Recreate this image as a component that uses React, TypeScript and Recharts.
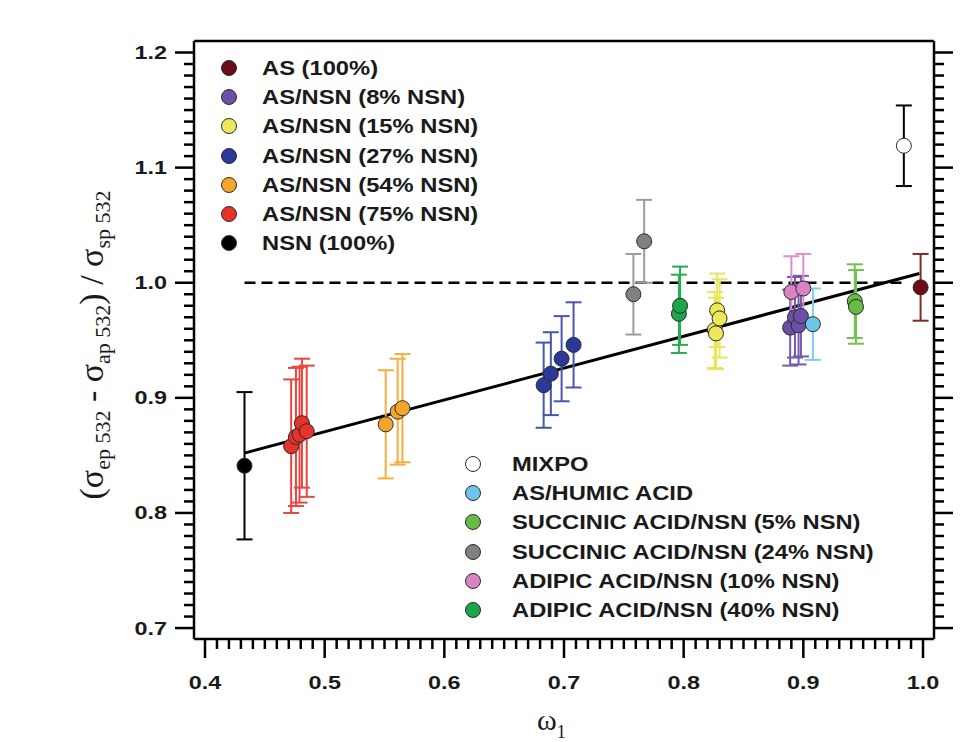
import React from 'react';
import { ScatterChart, Scatter, XAxis, YAxis, ErrorBar, ReferenceLine } from 'recharts';

const W = 961;
const H = 742;
const FONT = '"Liberation Sans", Arial, sans-serif';
const SERIF = '"Liberation Serif", "Times New Roman", serif';

// omega_1, extinction ratio and its error bar for each sample type
const AS100_W = [0.998];
const AS100_R = [0.996];
const AS100_E = [0.029];

const NSN8_W = [0.889, 0.893, 0.896, 0.898];
const NSN8_R = [0.961, 0.97, 0.963, 0.971];
const NSN8_E = [0.033, 0.035, 0.034, 0.035];

const NSN15_W = [0.826, 0.827, 0.828, 0.83];
const NSN15_R = [0.959, 0.956, 0.976, 0.969];
const NSN15_E = [0.033, 0.031, 0.032, 0.034];

const NSN27_W = [0.683, 0.689, 0.698, 0.708];
const NSN27_R = [0.911, 0.921, 0.934, 0.946];
const NSN27_E = [0.037, 0.036, 0.037, 0.037];

const NSN54_W = [0.551, 0.561, 0.565];
const NSN54_R = [0.877, 0.888, 0.891];
const NSN54_E = [0.047, 0.046, 0.047];

const NSN75_W = [0.472, 0.476, 0.479, 0.481, 0.485];
const NSN75_R = [0.858, 0.866, 0.868, 0.878, 0.871];
const NSN75_E = [0.058, 0.06, 0.059, 0.056, 0.057];

const NSN100_W = [0.433];
const NSN100_R = [0.841];
const NSN100_E = [0.064];

const MIXPO_W = [0.984];
const MIXPO_R = [1.119];
const MIXPO_E = [0.035];

const HUMIC_W = [0.908];
const HUMIC_R = [0.964];
const HUMIC_E = [0.031];

const SUCC5_W = [0.943, 0.944];
const SUCC5_R = [0.984, 0.979];
const SUCC5_E = [0.032, 0.032];

const SUCC24_W = [0.758, 0.767];
const SUCC24_R = [0.99, 1.036];
const SUCC24_E = [0.035, 0.036];

const ADIP10_W = [0.89, 0.9];
const ADIP10_R = [0.992, 0.995];
const ADIP10_E = [0.031, 0.03];

const ADIP40_W = [0.796, 0.797];
const ADIP40_R = [0.973, 0.98];
const ADIP40_E = [0.034, 0.034];

// linear fit and the unity line
const FIT_W = [0.433, 0.997];
const FIT_R = [0.852, 1.008];
const UNITY_W = [0.433, 0.985];
const UNITY_R = 1.0;

const X_LABELS = [0.4, 0.5, 0.6, 0.7, 0.8, 0.9, 1.0];
const Y_LABELS = [0.7, 0.8, 0.9, 1.0, 1.1, 1.2];

// minor ticks every 0.01 between the labelled ones
const X_TICKS = Array.from({ length: 61 }, (_, i) => Math.round((X_LABELS[0] + i * 0.01) * 1000) / 1000);
const Y_TICKS = Array.from({ length: 51 }, (_, i) => Math.round((Y_LABELS[0] + i * 0.01) * 1000) / 1000);

const mk = (w: number[], r: number[], e: number[]) => w.map((x, i) => ({ w: x, r: r[i], e: e[i] }));

const TOP_SERIES = [
  { name: 'AS (100%)', data: mk(AS100_W, AS100_R, AS100_E), fill: '#6a0d14', bar: '#7e2a2e' },
  { name: 'AS/NSN (8% NSN)', data: mk(NSN8_W, NSN8_R, NSN8_E), fill: '#6b50a8', bar: '#7459b5' },
  { name: 'AS/NSN (15% NSN)', data: mk(NSN15_W, NSN15_R, NSN15_E), fill: '#eee85a', bar: '#e9e55a' },
  { name: 'AS/NSN (27% NSN)', data: mk(NSN27_W, NSN27_R, NSN27_E), fill: '#2b3a98', bar: '#4756b0' },
  { name: 'AS/NSN (54% NSN)', data: mk(NSN54_W, NSN54_R, NSN54_E), fill: '#f5a52a', bar: '#f6ac3e' },
  { name: 'AS/NSN (75% NSN)', data: mk(NSN75_W, NSN75_R, NSN75_E), fill: '#e5332c', bar: '#e8473f' },
  { name: 'NSN (100%)', data: mk(NSN100_W, NSN100_R, NSN100_E), fill: '#000000', bar: '#000000' },
];

const BOTTOM_SERIES = [
  { name: 'MIXPO', data: mk(MIXPO_W, MIXPO_R, MIXPO_E), fill: '#ffffff', bar: '#000000' },
  { name: 'AS/HUMIC ACID', data: mk(HUMIC_W, HUMIC_R, HUMIC_E), fill: '#6ec5ec', bar: '#7fcdf0' },
  { name: 'SUCCINIC ACID/NSN (5% NSN)', data: mk(SUCC5_W, SUCC5_R, SUCC5_E), fill: '#67bc44', bar: '#70c24c' },
  { name: 'SUCCINIC ACID/NSN (24% NSN)', data: mk(SUCC24_W, SUCC24_R, SUCC24_E), fill: '#7e8083', bar: '#9a9b9d' },
  { name: 'ADIPIC ACID/NSN (10% NSN)', data: mk(ADIP10_W, ADIP10_R, ADIP10_E), fill: '#d883c2', bar: '#df8fca' },
  { name: 'ADIPIC ACID/NSN (40% NSN)', data: mk(ADIP40_W, ADIP40_R, ADIP40_E), fill: '#1ca64a', bar: '#27ad52' },
];

const isMajor = (v: number) => Math.abs(v * 10 - Math.round(v * 10)) < 1e-6;

const TickX = (props: any) => {
  const { x, y, payload, side } = props;
  const major = isMajor(payload.value);
  const d = side === 'bottom' ? 1 : -1;
  return (
    <g>
      <line x1={x} y1={y} x2={x} y2={y + d * (major ? 19 : 10)} stroke="#000" strokeWidth={2.5} />
      {major && side === 'bottom' && (
        <text
          transform={`translate(${x},${y + 50}) scale(1.3,1)`}
          textAnchor="middle"
          fontFamily={FONT}
          fontWeight="bold"
          fontSize={18}
          fill="#1a1a1a"
        >
          {payload.value.toFixed(1)}
        </text>
      )}
    </g>
  );
};

const TickY = (props: any) => {
  const { x, y, payload, side } = props;
  const major = isMajor(payload.value);
  const d = side === 'left' ? -1 : 1;
  return (
    <g>
      <line x1={x} y1={y} x2={x + d * (major ? 19 : 10)} y2={y} stroke="#000" strokeWidth={2.5} />
      {major && side === 'left' && (
        <text
          transform={`translate(${x - 27},${y + 6.5}) scale(1.3,1)`}
          textAnchor="end"
          fontFamily={FONT}
          fontWeight="bold"
          fontSize={18}
          fill="#1a1a1a"
        >
          {payload.value.toFixed(1)}
        </text>
      )}
    </g>
  );
};

const XTitle = () => (
  <text x={537} y={730} fontFamily={SERIF} fontSize={30} fill="#1a1a1a">
    ω<tspan fontSize={18} dy={8}>1</tspan>
  </text>
);

const YTitle = () => (
  <text transform="translate(103,345) rotate(-90)" textAnchor="middle" fontFamily={SERIF} fontSize={34} fill="#1a1a1a">
    (σ<tspan fontSize={22} dy={7}>ep 532</tspan>
    <tspan dy={-7}> - σ</tspan>
    <tspan fontSize={22} dy={7}>ap 532</tspan>
    <tspan dy={-7}>) / σ</tspan>
    <tspan fontSize={22} dy={7}>sp 532</tspan>
  </text>
);

const dot = (fill: string) => (p: any) => (
  <circle cx={p.cx} cy={p.cy} r={7.5} fill={fill} stroke="#2a2a2a" strokeWidth={1} />
);

const LegendBlock = ({ items, cx, top, step, textX }: any) => (
  <>
    {items.map((s: any, i: number) => {
      const cy = top + i * step;
      return (
        <React.Fragment key={s.name}>
          <svg style={{ position: 'absolute', left: cx - 9, top: cy - 9 }} width={18} height={18}>
            <circle cx={9} cy={9} r={7.5} fill={s.fill} stroke="#2a2a2a" strokeWidth={1} />
          </svg>
          <span
            style={{
              position: 'absolute',
              left: textX,
              top: cy - 12,
              fontFamily: FONT,
              fontWeight: 'bold',
              fontSize: 21,
              lineHeight: '24px',
              whiteSpace: 'nowrap',
              color: '#1a1a1a',
              transform: 'scaleX(1.13)',
              transformOrigin: 'left center',
            }}
          >
            {s.name}
          </span>
        </React.Fragment>
      );
    })}
  </>
);

export default function App() {
  const all = [...TOP_SERIES, ...BOTTOM_SERIES];
  return (
    <div style={{ position: 'absolute', left: 0, top: 0, width: W, height: H, background: '#fff' }}>
      <ScatterChart width={W} height={H} margin={{ top: 21, right: 7, bottom: 43, left: 114 }}>
        <XAxis
          xAxisId={0}
          type="number"
          dataKey="w"
          domain={[0.3908, 1.0092]}
          allowDataOverflow
          ticks={X_TICKS}
          interval={0}
          tickSize={0}
          tickMargin={0}
          tickLine={false}
          axisLine={{ stroke: '#000', strokeWidth: 2.5 }}
          tick={(p: any) => <TickX {...p} side="bottom" />}
          height={60}
          label={() => <XTitle />}
        />
        <XAxis
          xAxisId="top"
          orientation="top"
          type="number"
          domain={[0.3908, 1.0092]}
          allowDataOverflow
          ticks={X_TICKS}
          interval={0}
          tickSize={0}
          tickMargin={0}
          tickLine={false}
          axisLine={{ stroke: '#000', strokeWidth: 2.5 }}
          tick={(p: any) => <TickX {...p} side="top" />}
          height={20}
        />
        <YAxis
          yAxisId={0}
          type="number"
          dataKey="r"
          domain={[0.6905, 1.21]}
          allowDataOverflow
          ticks={Y_TICKS}
          interval={0}
          tickSize={0}
          tickMargin={0}
          tickLine={false}
          axisLine={{ stroke: '#000', strokeWidth: 2.5 }}
          tick={(p: any) => <TickY {...p} side="left" />}
          width={80}
          label={() => <YTitle />}
        />
        <YAxis
          yAxisId="right"
          orientation="right"
          type="number"
          domain={[0.6905, 1.21]}
          allowDataOverflow
          ticks={Y_TICKS}
          interval={0}
          tickSize={0}
          tickMargin={0}
          tickLine={false}
          axisLine={{ stroke: '#000', strokeWidth: 2.5 }}
          tick={(p: any) => <TickY {...p} side="right" />}
          width={20}
        />
        <ReferenceLine
          segment={[{ x: UNITY_W[0], y: UNITY_R }, { x: UNITY_W[1], y: UNITY_R }]}
          stroke="#000"
          strokeWidth={2.5}
          strokeDasharray="11 6"
        />
        <ReferenceLine
          segment={[{ x: FIT_W[0], y: FIT_R[0] }, { x: FIT_W[1], y: FIT_R[1] }]}
          stroke="#000"
          strokeWidth={3}
        />
        {all.map((s) => (
          <Scatter key={s.name} name={s.name} data={s.data} shape={dot(s.fill)} isAnimationActive={false}>
            <ErrorBar dataKey="e" direction="y" width={8} stroke={s.bar} strokeWidth={2} isAnimationActive={false} />
          </Scatter>
        ))}
      </ScatterChart>
      <LegendBlock items={TOP_SERIES} cx={229} top={68} step={29.2} textX={262} />
      <LegendBlock items={BOTTOM_SERIES} cx={473} top={464} step={29.2} textX={512} />
    </div>
  );
}
